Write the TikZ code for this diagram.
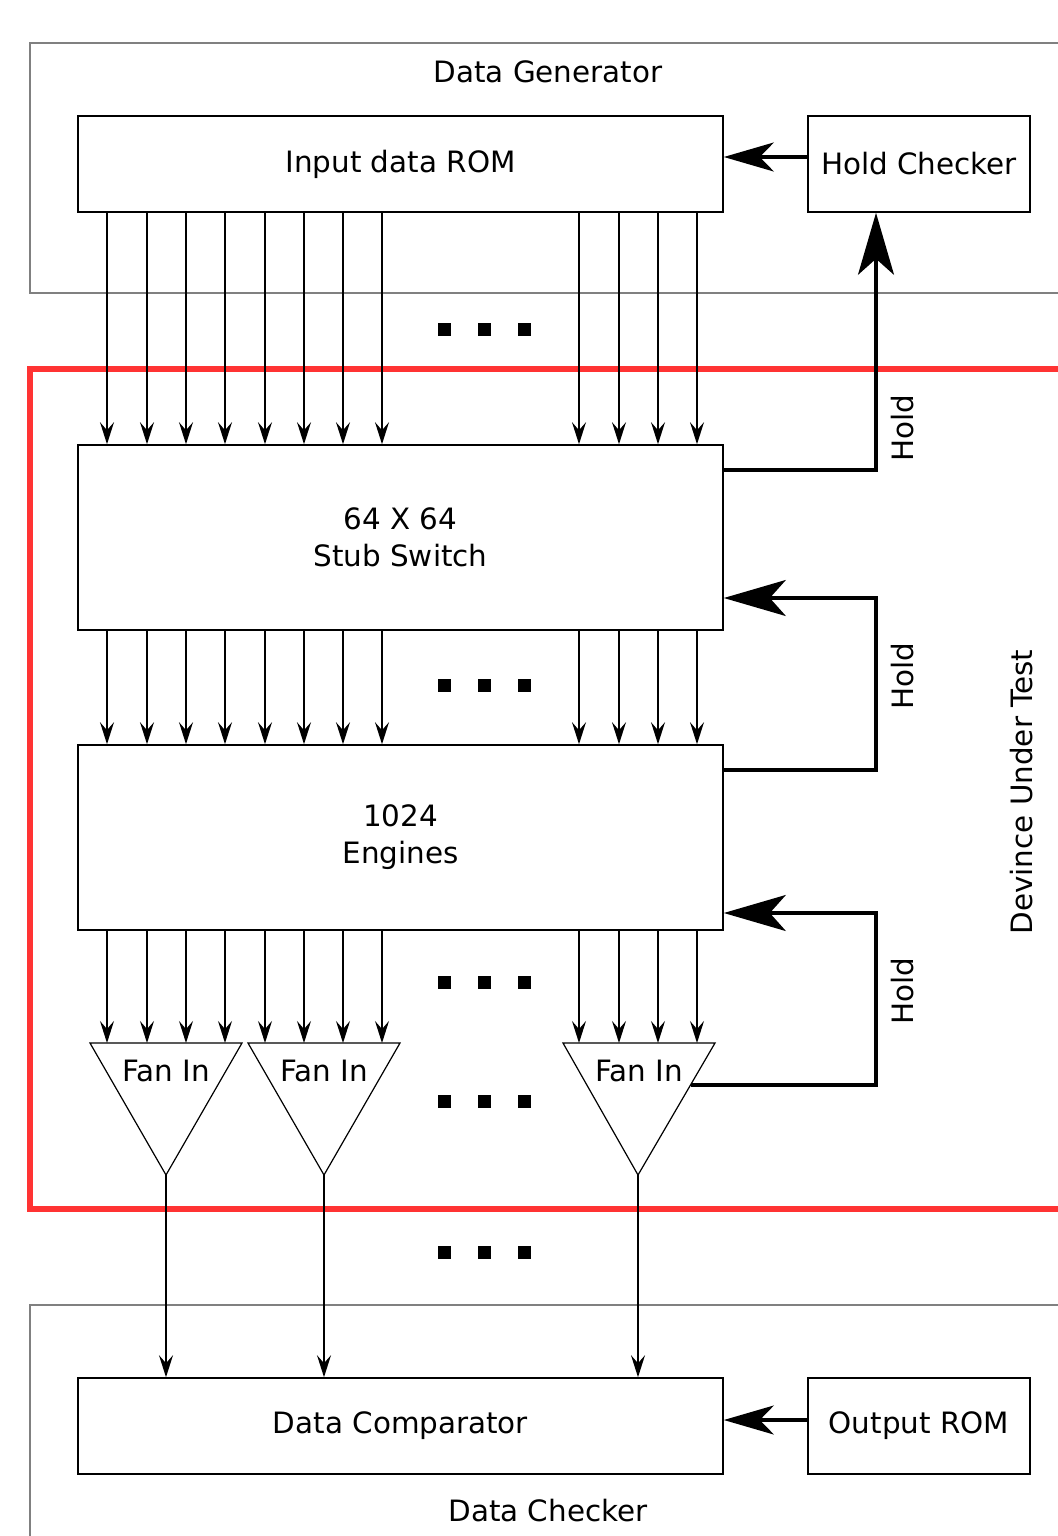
\documentclass[tikz,border=0pt]{standalone}
\usepackage{fontspec}
\setmainfont{DejaVu Sans}
\usetikzlibrary{arrows.meta}
\begin{document}
\begin{tikzpicture}[x=0.5pt,y=-0.5pt,
  every node/.style={font=\fontsize{14.7}{18.5}\selectfont},
  blk/.style={draw, line width=0.8pt, inner sep=0, align=center},
  frame/.style={draw=gray, line width=0.6pt},
  dut/.style={draw=red!80!white, line width=3pt},
  sig/.style={-{Stealth[length=11pt,width=7pt,inset=4pt]}, line width=0.7pt},
  feed/.style={line width=1.6pt, -{Stealth[length=25pt,width=14.5pt,inset=7pt]}},
  hold/.style={line width=1.6pt, -{Stealth[length=31pt,width=18pt,inset=8pt]}},
  sq/.style={fill=black, minimum size=6.5pt, inner sep=0},
  fan/.style={draw, line width=0.6pt},
]
\useasboundingbox (0,0) rectangle (1058,1536);

% outer frames
\draw[frame] (1058,43) -- (30,43) -- (30,293) -- (1058,293);
\node (dgl) at (548,72) {Data Generator};
\draw[frame] (1058,1305) -- (30,1305) -- (30,1540);
\node (dcl) at (548,1511) {Data Checker};
\draw[dut] (1060,369) -- (30,369) -- (30,1209) -- (1060,1209);
\node[rotate=90] (dutl) at (1022,792) {Devince Under Test};

% blocks
\node[blk, minimum width=322.5pt, minimum height=48pt] (rom) at (400.5,164) {Input data ROM};
\node[blk, minimum width=111pt, minimum height=48pt] (hc) at (919,164) {Hold Checker};
\node[blk, minimum width=322.5pt, minimum height=92.5pt] (sw) at (400.5,537.5) {64 X 64\\Stub Switch};
\node[blk, minimum width=322.5pt, minimum height=92.5pt] (eng) at (400.5,837.5) {1024\\Engines};
\node[blk, minimum width=322.5pt, minimum height=48pt] (dc) at (400.5,1426) {Data Comparator};
\node[blk, minimum width=111pt, minimum height=48pt] (orom) at (919,1426) {Output ROM};

% fan-in triangles
\draw[fan] (90,1043) -- (242,1043) -- (166,1175) -- cycle;
\draw[fan] (248,1043) -- (400,1043) -- (324,1175) -- cycle;
\draw[fan] (563,1043) -- (715,1043) -- (638,1175) -- cycle;
\coordinate (f1t) at (166,1043); \coordinate (f1) at (166,1175);
\coordinate (f2t) at (324,1043); \coordinate (f2) at (324,1175);
\coordinate (f3t) at (638,1043); \coordinate (f3) at (638,1175);
\coordinate (f3r) at (690.5,1085);
\node (fl1) at (166,1071) {Fan In};
\node (fl2) at (324,1071) {Fan In};
\node (fl3) at (639,1071) {Fan In};

% signal arrows
\foreach \x in {107,147,186,225,265,304,343,382,579,619,658,697} {
  \draw[sig] (rom.south -| \x,0) -- (sw.north -| \x,0);
  \draw[sig] (sw.south -| \x,0) -- (eng.north -| \x,0);
}
\foreach \x in {107,147,186,225} \draw[sig] (eng.south -| \x,0) -- (f1t -| \x,0);
\foreach \x in {265,304,343,382} \draw[sig] (eng.south -| \x,0) -- (f2t -| \x,0);
\foreach \x in {579,619,658,697} \draw[sig] (eng.south -| \x,0) -- (f3t -| \x,0);
\draw[sig] (f1) -- (dc.north -| f1);
\draw[sig] (f2) -- (dc.north -| f2);
\draw[sig] (f3) -- (dc.north -| f3);

% feed arrows
\draw[feed] (hc.west |- 0,157) -- (rom.east |- 0,157);
\draw[feed] (orom.west |- 0,1420) -- (dc.east |- 0,1420);

% hold loops
\draw[hold] (sw.east |- 0,470) -- (876,470) -- (hc.south -| 876,0);
\draw[hold] (eng.east |- 0,770) -- (876,770) -- (876,598) -- (sw.east |- 0,598);
\draw[hold] (f3r) -- (876,1085) -- (876,913) -- (eng.east |- 0,913);
\node[rotate=90] (h1) at (903,428) {Hold};
\node[rotate=90] (h2) at (903,676) {Hold};
\node[rotate=90] (h3) at (903,991) {Hold};

% ellipsis squares
\foreach \y in {329,685,982,1101,1252} {
  \foreach \x in {444,484,524} \node[sq] at (\x,\y) {};
}
\end{tikzpicture}
\end{document}
